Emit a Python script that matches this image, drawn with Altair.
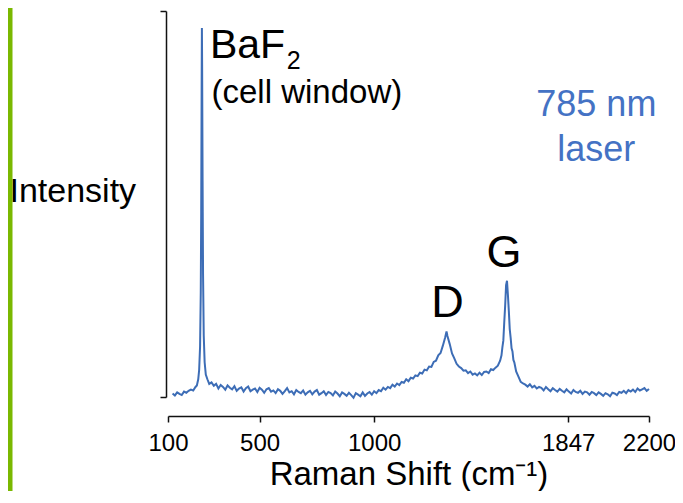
import altair as alt
import pandas as pd

# ---- spectrum (Raman shift in cm-1, intensity in arbitrary units 0-100)
shift_low = [120, 130, 140, 150, 160, 170, 180, 190, 200, 210, 220]
int_low = [0.9, 0.4, 1.2, 0.8, 0.5, 1.4, 1.1, 1.6, 1.9, 1.7, 2.6]

shift_baf = [226, 232, 236, 240, 243, 245, 247, 248, 249, 251, 253, 256, 260, 265, 272, 280]
int_baf = [3.0, 4.6, 7.0, 13, 27, 48, 82, 95.6, 86, 56, 32, 16, 9, 5.8, 4.6, 3.4]

shift_mid = [290, 300, 310, 320, 330, 340, 350, 360, 370, 380,
             390, 400, 410, 420, 430, 440, 450, 460, 470, 480,
             490, 500, 510, 520, 530, 540, 550, 560, 570, 580,
             590, 600, 610, 620, 630, 640, 650, 660, 670, 680,
             690, 700, 710, 720, 730, 740, 750, 760, 770, 780,
             790, 800, 810, 820, 830, 840, 850, 860, 870, 880,
             890, 900, 910, 920, 930, 940, 950, 960, 970, 980,
             990, 1000, 1010, 1020, 1030, 1040, 1050, 1060, 1070, 1080,
             1090, 1100, 1110, 1120, 1130, 1140, 1150, 1160, 1170, 1180,
             1190, 1200, 1210, 1220, 1230, 1240, 1250, 1260, 1270, 1280,
             1290, 1300, 1310, 1316, 1320, 1330, 1340, 1350, 1360, 1370,
             1380, 1390, 1400, 1410, 1420, 1430, 1440, 1450, 1460, 1470,
             1480, 1490, 1500, 1510, 1520, 1530, 1540, 1550]
int_mid = [3.8, 2.9, 3.4, 2.2, 3.1, 2.6, 1.9, 3.0, 2.4, 2.0,
           2.8, 1.6, 2.2, 2.5, 1.4, 2.3, 2.7, 1.5, 1.9, 2.2,
           1.3, 2.4, 1.9, 1.1, 2.0, 2.3, 1.4, 1.7, 1.0, 2.0,
           1.6, 0.8, 1.5, 2.3, 1.2, 1.5, 0.7, 1.8, 1.3, 1.0,
           1.7, 0.6, 1.2, 1.6, 0.7, 1.4, 1.8, 0.6, 1.0, 1.5,
           0.5, 1.3, 1.0, 0.4, 1.4, 0.9, 0.2, 1.2, 0.8, 0.3,
           1.1, 0.5, -0.2, 1.0, 0.6, 0.2, 1.2, 0.3, 0.9, 1.3,
           0.6, 1.5, 1.0, 1.8, 1.5, 2.4, 1.9, 2.6, 2.3, 3.2,
           2.7, 3.5, 3.1, 3.9, 3.7, 4.6, 4.1, 5.0, 4.8, 5.6,
           5.4, 6.3, 6.1, 7.1, 6.9, 7.9, 7.8, 9.1, 9.4, 10.8,
           11.4, 13.3, 15.4, 17.0, 15.8, 13.7, 11.3, 10.0, 8.6, 7.9,
           7.5, 6.8, 6.9, 6.2, 6.6, 5.8, 6.1, 5.6, 6.3, 5.7,
           6.5, 6.6, 6.2, 7.2, 7.0, 7.6, 8.1, 9.4]

shift_g = [1556, 1560, 1564, 1568, 1572, 1576, 1580, 1584, 1588, 1592, 1596, 1600, 1604, 1608, 1612]
int_g = [10.8, 12.9, 14.6, 19.3, 23.6, 29.0, 30.1, 26.5, 22.3, 17.6, 15.3, 12.6, 11.8, 9.6, 9.0]

shift_high = [1620, 1630, 1640, 1650, 1660, 1670, 1680, 1690, 1700, 1710,
              1720, 1730, 1740, 1750, 1760, 1770, 1780, 1790, 1800, 1810,
              1820, 1830, 1840, 1850, 1860, 1870, 1880, 1890, 1900, 1910,
              1920, 1930, 1940, 1950, 1960, 1970, 1980, 1990, 2000, 2010,
              2020, 2030, 2040, 2050, 2060, 2070, 2080, 2090, 2100, 2110,
              2120, 2130, 2140, 2150, 2160, 2170, 2180, 2190, 2200]
int_high = [6.6, 5.3, 3.9, 3.5, 3.2, 2.7, 3.3, 2.5, 2.9, 2.2,
            2.6, 2.4, 1.7, 2.6, 2.0, 1.5, 2.3, 1.8, 1.4, 2.1,
            1.6, 1.2, 2.0, 1.4, 0.9, 1.8, 1.3, 1.1, 1.6, 0.8,
            1.4, 1.2, 0.6, 1.3, 1.0, 0.5, 1.2, 0.8, 0.3, 1.0,
            0.7, 0.2, 1.1, 0.9, 0.5, 1.3, 1.1, 1.6, 1.0, 1.8,
            1.4, 1.9, 1.3, 2.2, 1.7, 2.0, 2.3, 1.6, 2.1]

x_ticks = [100, 500, 1000, 1847, 2200]

# ---- annotations (positions in data units)
lbl_left_text = ["BaF", "2", "(cell window)"]
lbl_left_x = [283, 618, 290]
lbl_left_y = [87.8, 85.0, 76.2]
lbl_left_size = [41, 25, 33]

lbl_blue_text = ["785 nm", "laser"]
lbl_blue_x = [1970, 1970]
lbl_blue_y = [72.8, 61.2]

lbl_peak_text = ["D", "G"]
lbl_peak_x = [1320, 1567]
lbl_peak_y = [20.7, 33.7]

FONT = "Liberation Sans"
BLUE_LINE = "#3d6db6"
BLUE_TEXT = "#4472c4"

shift = shift_low + shift_baf + shift_mid + shift_g + shift_high
intensity = int_low + int_baf + int_mid + int_g + int_high
assert len(shift) == len(intensity)
spec = pd.DataFrame({"shift": shift, "intensity": intensity})

xscale = alt.Scale(domain=[100, 2200], nice=False, zero=False)
yscale = alt.Scale(domain=[0, 100], nice=False, zero=False)

line = alt.Chart(spec).mark_line(color=BLUE_LINE, strokeWidth=2.0).encode(
    x=alt.X("shift:Q", scale=xscale,
            axis=alt.Axis(values=x_ticks, format="d", title="Raman Shift (cm⁻¹)", grid=False,
                          offset=19, tickSize=6, tickWidth=1.5, domainWidth=1.5,
                          domainColor="#111", tickColor="#111",
                          labelFont=FONT, labelFontSize=24, labelColor="#000",
                          labelPadding=9, labelFlush=False,
                          titleFont=FONT, titleFontSize=33, titleFontWeight="normal",
                          titleColor="#000", titleBaseline="alphabetic", titleY=68)),
    y=alt.Y("intensity:Q", scale=yscale,
            axis=alt.Axis(values=[0, 100], labels=False, grid=False, offset=2,
                          tickSize=6, tickWidth=1.5, domainWidth=1.5,
                          domainColor="#111", tickColor="#111",
                          title="Intensity", titleAngle=0, titleAlign="left",
                          titleBaseline="alphabetic", titleX=-157, titleY=190,
                          titleFont=FONT, titleFontSize=34, titleFontWeight="normal",
                          titleColor="#000")),
)

left_df = pd.DataFrame({"t": lbl_left_text, "x": lbl_left_x, "y": lbl_left_y, "s": lbl_left_size})
left_txt = alt.Chart(left_df).mark_text(align="left", baseline="alphabetic", font=FONT, color="#000").encode(
    x=alt.X("x:Q", scale=xscale), y=alt.Y("y:Q", scale=yscale),
    text="t:N", size=alt.Size("s:Q", scale=None, legend=None))

blue_df = pd.DataFrame({"t": lbl_blue_text, "x": lbl_blue_x, "y": lbl_blue_y})
blue_txt = alt.Chart(blue_df).mark_text(align="center", baseline="alphabetic", font=FONT,
                                        fontSize=36, color=BLUE_TEXT).encode(
    x=alt.X("x:Q", scale=xscale), y=alt.Y("y:Q", scale=yscale), text="t:N")

peak_df = pd.DataFrame({"t": lbl_peak_text, "x": lbl_peak_x, "y": lbl_peak_y})
peak_txt = alt.Chart(peak_df).mark_text(align="center", baseline="alphabetic", font=FONT,
                                        fontSize=45, color="#000").encode(
    x=alt.X("x:Q", scale=xscale), y=alt.Y("y:Q", scale=yscale), text="t:N")

green = alt.Chart(pd.DataFrame({"k": [0]})).mark_rect(color="#7ab800").encode(
    x=alt.value(-160), x2=alt.value(-155.5), y=alt.value(-3), y2=alt.value(480))

chart = alt.layer(green, line, left_txt, blue_txt, peak_txt).properties(
    width=481, height=386,
    autosize=alt.AutoSizeParams(type="none"),
    padding={"left": 160, "top": 3, "right": 26, "bottom": 94},
).configure_view(stroke=None)

chart.save("out.html", embed_options={"renderer": "svg", "actions": False})
